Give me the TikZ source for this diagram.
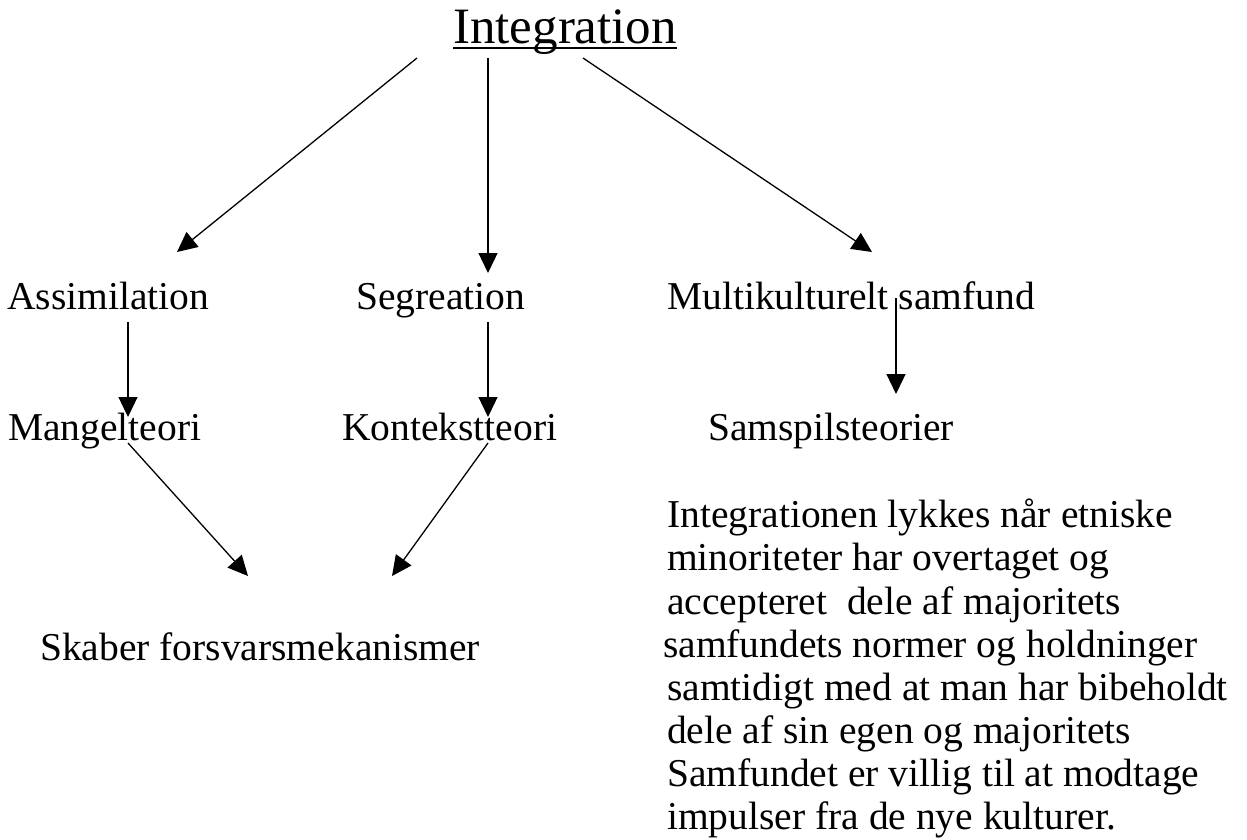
\documentclass[tikz,border=0pt]{standalone}
\usepackage{fontspec}
\setmainfont{Liberation Serif}
\usepackage{tikz}
\usetikzlibrary{positioning}
\usetikzlibrary{arrows.meta}

\begin{document}
\begin{tikzpicture} [
            x=1pt, y=1pt,
            lbl/.style={anchor=base west, inner sep=0pt, font=\fontsize{39.5}{43.1}\selectfont},
            arr/.style={-{Triangle[length=20pt,width=19pt]}, line width=1.3pt}
        ]
        \useasboundingbox (0,0) rectangle (1247,-839);
        % \draw (0,0) rectangle (1247,-839);
        \node[lbl, font=\fontsize{51}{60}\selectfont] (integ) at (453,-43) {Integration};
        \draw[line width=2.3pt] ([yshift=-5pt]integ.base west) -- ([yshift=-5pt]integ.base east);

        \node[lbl] (assim) at (7,-309) {Assimilation};
        \node[lbl] (segr) at (356,-309) {Segreation};
        \node[lbl] (multi) at (667,-309) {Multikulturelt samfund};
        \node[lbl] (mangel) at (8,-440) {Mangelteori};
        \node[lbl] (kontekst) at (342,-440) {Kontekstteori};
        \node[lbl] (samspil) at (708,-440) {Samspilsteorier};
        \node[lbl] (skaber) at (40,-660) {Skaber forsvarsmekanismer};
        \node[lbl, anchor=north west, align=left] (tekst) at (667,-499) {Integrationen lykkes når etniske\\
            minoriteter har overtaget og\\
            accepteret\ \ dele af majoritets\\
            \hspace*{-4pt}samfundets normer og holdninger\\
            samtidigt med at man har bibeholdt\\
            dele af sin egen og majoritets\\
            Samfundet er villig til at modtage\\
            impulser fra de nye kulturer.};

        \draw[arr] ([shift={(-36,-15)}]integ.base west) -- ([shift={(170,57)}]assim.base west);
        \draw[arr] ([shift={(35,-15)}]integ.base west) -- ([shift={(132,36)}]segr.base west);
        \draw[arr] ([shift={(130,-15)}]integ.base west) -- ([shift={(205,57)}]multi.base west);
        \draw[arr] ([shift={(121,-13)}]assim.base west) -- ([shift={(120,23)}]mangel.base west);
        \draw[arr] ([shift={(132,-13)}]segr.base west) -- ([shift={(146,23)}]kontekst.base west);
        \draw[arr] ([shift={(229,11)}]multi.base west) -- ([shift={(188,46)}]samspil.base west);
        \draw[arr] ([shift={(120,-3)}]mangel.base west) -- ([shift={(208,84)}]skaber.base west);
        \draw[arr] ([shift={(146,-3)}]kontekst.base west) -- ([shift={(352,84)}]skaber.base west);
    \end{tikzpicture}
\end{document}
